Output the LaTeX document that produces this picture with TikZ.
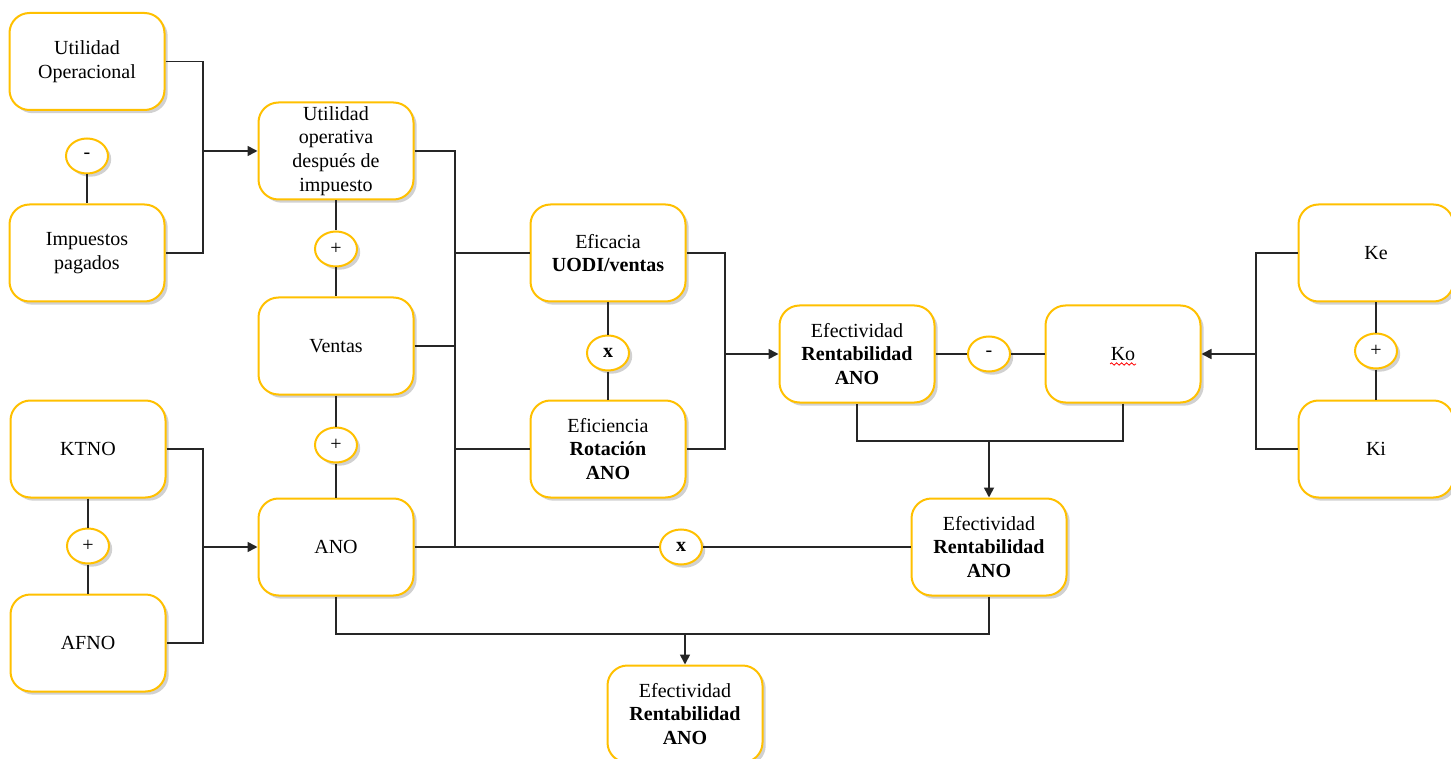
\documentclass[tikz,border=0pt]{standalone}
\usepackage{fontspec}
\setmainfont{Liberation Serif}
\usetikzlibrary{shapes.geometric,shadows,arrows.meta,decorations.pathmorphing}
\definecolor{gold}{HTML}{FFC000}
\begin{document}
\begin{tikzpicture}[x=0.5pt,y=-0.5pt,
  font=\rmfamily\fontsize{10}{11.9}\selectfont,
  shadowed/.style={drop shadow={shadow xshift=1.6pt,shadow yshift=-1.6pt,opacity=0.3,fill=black!60}},
  box/.style={draw=gold,line width=1pt,rounded corners=10pt,fill=white,
    minimum width=77.5pt,minimum height=48.5pt,align=center,inner sep=1pt,shadowed},
  op/.style={ellipse,draw=gold,line width=1pt,fill=white,minimum width=21pt,
    minimum height=17.5pt,inner sep=0pt,shadowed},
  conn/.style={draw=black!85,line width=0.85pt},
  arr/.style={conn,-{Triangle[length=5pt,width=5pt]}}]
\useasboundingbox (0,0) rectangle (1451,759);

% left column
\node[box] (UO) at (87,61.5) {Utilidad\\Operacional};
\node[op] (m1) at (87,156) {-};
\node[box] (IP) at (87,253) {Impuestos\\pagados};
\node[box] (KT) at (88,449) {KTNO};
\node[op] (p3) at (88,546) {+};
\node[box] (AF) at (88,643) {AFNO};

% second column
\node[box] (UD) at (336,151) {Utilidad\\operativa\\después de\\impuesto};
\node[op] (p1) at (336,249) {+};
\node[box] (VE) at (336,346) {Ventas};
\node[op] (p2) at (336,445) {+};
\node[box] (AN) at (336,547) {ANO};

% third column
\node[box] (EA) at (608,253) {Eficacia\\\textbf{UODI/ventas}};
\node[op] (x1) at (608,353) {\textbf{x}};
\node[box] (EI) at (608,449) {Eficiencia\\\textbf{Rotación}\\\textbf{ANO}};
\node[op] (x2) at (681,547) {\textbf{x}};

% right part
\node[box] (E1) at (857,354) {Efectividad\\\textbf{Rentabilidad}\\\textbf{ANO}};
\node[op] (m2) at (989,354) {-};
\node[box] (KO) at (1123,354) {Ko};
\node[box] (KE) at (1376,253) {Ke};
\node[op] (p4) at (1376,351) {+};
\node[box] (KI) at (1376,449) {Ki};
\node[box] (E2) at (989,547) {Efectividad\\\textbf{Rentabilidad}\\\textbf{ANO}};
\node[box] (E3) at (685,714) {Efectividad\\\textbf{Rentabilidad}\\\textbf{ANO}};

% spell-check underline under Ko
\draw[red,line width=0.4pt,decorate,decoration={snake,amplitude=0.6pt,segment length=2.5pt}]
  ([xshift=-6.5pt,yshift=-5pt]KO.center) -- ([xshift=6.5pt,yshift=-5pt]KO.center);

% junction coordinates
\coordinate (j1) at (203,151);
\coordinate (j2) at (203,547);
\coordinate (b1) at (455,151);
\coordinate (b2) at (455,547);
\coordinate (j3) at (725,354);
\coordinate (j4) at (1256,354);
\coordinate (j5) at (989,441);
\coordinate (j6) at (685,634);

% left joins
\draw[conn] (UO.east) -| (j1) |- (IP.east);
\draw[arr] (j1) -- (UD.west);
\draw[conn] (m1.south) -- (IP.north);
\draw[conn] (KT.east) -| (j2) |- (AF.east);
\draw[arr] (j2) -- (AN.west);
\draw[conn] (KT.south) -- (p3.north);
\draw[conn] (p3.south) -- (AF.north);

% second column chain
\draw[conn] (UD.south) -- (p1.north);
\draw[conn] (p1.south) -- (VE.north);
\draw[conn] (VE.south) -- (p2.north);
\draw[conn] (p2.south) -- (AN.north);

% bus
\draw[conn] (UD.east) -- (b1) -- (b2);
\draw[conn] (VE.east) -- (VE.east -| b1);
\draw[conn] (EA.west) -- (EA.west -| b1);
\draw[conn] (EI.west) -- (EI.west -| b1);
\draw[conn] (AN.east) -- (x2.west);
\draw[conn] (x2.east) -- (E2.west);

% third column
\draw[conn] (EA.south) -- (x1.north);
\draw[conn] (x1.south) -- (EI.north);
\draw[conn] (EA.east) -| (j3) |- (EI.east);
\draw[arr] (j3) -- (E1.west);

% right
\draw[conn] (E1.east) -- (m2.west);
\draw[conn] (m2.east) -- (KO.west);
\draw[conn] (KE.west) -| (j4) |- (KI.west);
\draw[arr] (j4) -- (KO.east);
\draw[conn] (KE.south) -- (p4.north);
\draw[conn] (p4.south) -- (KI.north);
\draw[conn] (KO.south) |- (j5) -| (E1.south);
\draw[arr] (j5) -- (E2.north);
\draw[conn] (AN.south) |- (j6) -| (E2.south);
\draw[arr] (j6) -- (E3.north);
\end{tikzpicture}
\end{document}
